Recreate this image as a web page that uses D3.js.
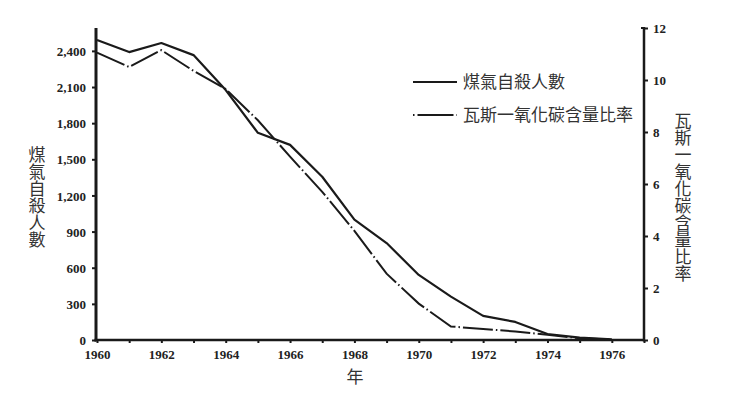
<!DOCTYPE html>
<html><head><meta charset="utf-8">
<script src="https://cdn.jsdelivr.net/npm/d3@7"></script>
<style>
html,body{margin:0;padding:0;background:#fff;}
svg{display:block;}
.tick text{font-family:"Liberation Serif","Times New Roman",serif;font-weight:bold;font-size:13px;fill:#222;}
.cjk{font-family:"Noto Sans CJK TC","Noto Sans CJK SC",sans-serif;fill:#333;}
.vert{writing-mode:vertical-rl;text-orientation:upright;}
</style>
</head><body>
<svg id="c" width="740" height="399"></svg>
<script>
const years = [1960,1961,1962,1963,1964,1965,1966,1967,1968,1969,1970,1971,1972,1973,1974,1975,1976];
const suicides = [2490,2390,2465,2365,2075,1720,1620,1355,1000,805,540,360,200,150,50,20,5];
const coRatio = [11.05,10.5,11.15,10.35,9.65,8.45,7.05,5.7,4.2,2.55,1.4,0.52,0.42,0.33,0.2,0.07,0.02];
const leftTicks = [0,300,600,900,1200,1500,1800,2100,2400];
const rightTicks = [0,2,4,6,8,10,12];
const yearTicks = d3.range(1960,1978);
const seriesNames = ["煤氣自殺人數","瓦斯一氧化碳含量比率"];
const leftTitle = "煤氣自殺人數";
const rightTitle = "瓦斯一氧化碳含量比率";
const xTitle = "年";

const svg = d3.select("#c");
const x = d3.scaleLinear().domain([1960,1977]).range([97,644]);
const yL = d3.scaleLinear().domain([0,2590]).range([340,28]);
const yR = d3.scaleLinear().domain([0,12]).range([340,28]);
const ink = "#1a1a1a";

// axes
const gx = svg.append("g").attr("transform","translate(0,340)")
  .call(d3.axisBottom(x).tickValues(yearTicks).tickSize(3).tickPadding(7)
    .tickFormat(d => d % 2 === 0 && d < 1977 ? String(d) : ""));
const gl = svg.append("g").attr("transform","translate(96,0)")
  .call(d3.axisLeft(yL).tickValues(leftTicks).tickSize(4).tickPadding(6).tickFormat(d3.format(",")));
const gr = svg.append("g").attr("transform","translate(644,0)")
  .call(d3.axisRight(yR).tickValues(rightTicks).tickSize(4).tickPadding(5));
[gx,gl,gr].forEach(g=>{
  g.select(".domain").remove();
  g.selectAll(".tick line").attr("stroke",ink).attr("stroke-width",2);
});
gl.selectAll(".tick text").attr("dy","0.36em");
gr.selectAll(".tick text").attr("dy","0.36em");

// axis frames
svg.append("line").attr("x1",x(1960)-1).attr("x2",x(1960)-1).attr("y1",yL(2590)).attr("y2",341.5)
  .attr("stroke",ink).attr("stroke-width",3);
svg.append("line").attr("x1",x(1960)-2.5).attr("x2",x(1977)+1).attr("y1",340).attr("y2",340)
  .attr("stroke",ink).attr("stroke-width",2.5);
svg.append("line").attr("x1",x(1977)).attr("x2",x(1977)).attr("y1",yR(12)-1).attr("y2",341.5)
  .attr("stroke",ink).attr("stroke-width",2.5);
svg.append("line").attr("x1",x(1977)-3).attr("x2",x(1977)).attr("y1",yR(12)).attr("y2",yR(12))
  .attr("stroke",ink).attr("stroke-width",2);

// lines
const lineL = d3.line().x((d,i)=>x(years[i])).y(d=>yL(d));
const lineR = d3.line().x((d,i)=>x(years[i])).y(d=>yR(d));
svg.append("path").datum(suicides).attr("d",lineL).attr("fill","none")
  .attr("stroke",ink).attr("stroke-width",2.2).attr("stroke-linejoin","round");
svg.append("path").datum(coRatio).attr("d",lineR).attr("fill","none")
  .attr("stroke",ink).attr("stroke-width",2).attr("stroke-dasharray","30,3,1.5,3");

// legend
const lg = svg.append("g");
lg.append("line").attr("x1",413).attr("x2",457).attr("y1",82).attr("y2",82)
  .attr("stroke",ink).attr("stroke-width",2.2);
lg.append("line").attr("x1",413).attr("x2",457).attr("y1",115).attr("y2",115)
  .attr("stroke",ink).attr("stroke-width",2).attr("stroke-dasharray","1.5,3,36,3,1.5");
lg.selectAll("text.leg").data(seriesNames).join("text").attr("class","cjk leg")
  .attr("x",463).attr("y",(d,i)=>82+i*33).attr("dy","0.35em")
  .attr("font-size",17).text(d=>d);

// vertical titles
svg.append("text").attr("class","cjk vert").attr("x",37).attr("y",146)
  .attr("font-size",17).text(leftTitle);
svg.append("text").attr("class","cjk vert").attr("x",683).attr("y",112)
  .attr("font-size",17).text(rightTitle);

svg.append("text").attr("class","cjk").attr("x",355).attr("y",377).attr("dy","0.35em")
  .attr("text-anchor","middle").attr("font-size",17).text(xTitle);
</script>
</body></html>
